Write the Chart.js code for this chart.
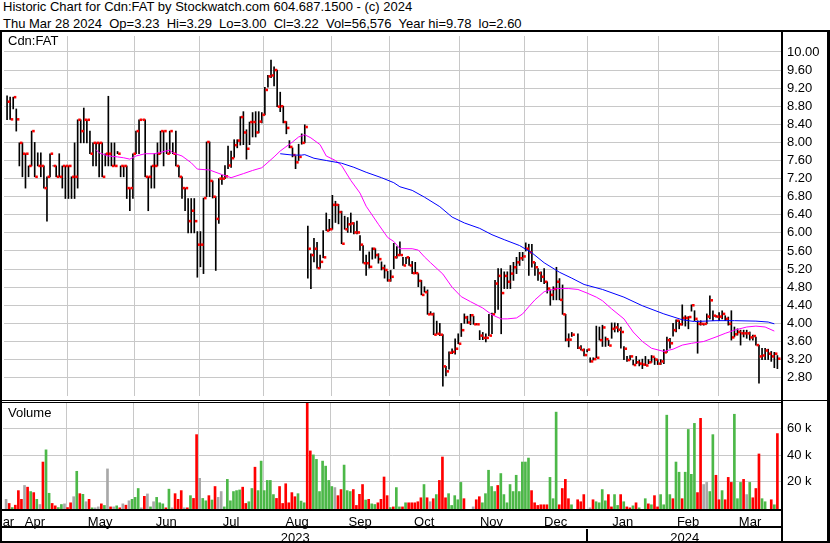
<!DOCTYPE html>
<html lang="en">
<head>
  <meta charset="UTF-8" />
  <title>Historic Chart for Cdn:FAT</title>
  <style>
    * {
      margin: 0;
      padding: 0;
      box-sizing: border-box;
    }
    body {
      width: 830px;
      height: 543px;
      position: relative;
      overflow: hidden;
      background: #fff;
      color: #000;
      font-family: Arial, "Liberation Sans", sans-serif;
      font-size: 13px;
    }
    .txt {
      position: absolute;
      white-space: pre;
      line-height: 15px;
    }
    .ln {
      position: absolute;
      background: #000;
    }
    canvas {
      position: absolute;
      left: 0;
    }
  </style>
</head>
<body>
  <div class="txt" style="left:3px;top:-1px">Historic Chart for Cdn:FAT by Stockwatch.com 604.687.1500 - (c) 2024</div>
  <div class="txt" style="left:3px;top:16px">Thu Mar 28 2024  Op=3.23  Hi=3.29  Lo=3.00  Cl=3.22  Vol=56,576  Year hi=9.78  lo=2.60</div>

  <canvas id="priceChart" width="830" height="368" style="top:32px"></canvas>
  <canvas id="volChart" width="830" height="140" style="top:403px"></canvas>

  <div class="txt" style="left:8px;top:33px">Cdn:FAT</div>
  <div class="txt" style="left:8px;top:405px">Volume</div>

  <!-- frame -->
  <div class="ln" style="left:0;top:30px;width:830px;height:2px"></div>
  <div class="ln" style="left:0;top:30px;width:2px;height:513px"></div>
  <div class="ln" style="left:827px;top:30px;width:3px;height:513px"></div>
  <div class="ln" style="left:781px;top:30px;width:2px;height:513px"></div>
  <div class="ln" style="left:0;top:400px;width:830px;height:1px"></div>
  <div class="ln" style="left:0;top:402px;width:783px;height:1px"></div>
  <div class="ln" style="left:0;top:509px;width:783px;height:2px"></div>
  <div class="ln" style="left:0;top:526px;width:783px;height:2px"></div>
  <div class="ln" style="left:0;top:541px;width:830px;height:2px"></div>

  <script src="https://cdn.jsdelivr.net/npm/chart.js"></script>
  <script>
    // daily bars, Mar 2023 - Mar 28 2024 (null = no trade)
    const highs = [
      9.03,9.00,9.00,8.74,7.99,7.99,7.75,7.48,8.25,8.00,7.77,7.77,7.48,7.24,7.75,7.48,7.48,7.75,7.48,7.48,
      7.48,7.24,7.99,8.50,8.50,8.76,8.50,8.25,7.99,7.99,7.99,7.99,7.75,9.02,7.99,7.99,7.80,7.48,7.48,7.48,
      6.99,7.75,8.25,8.50,8.50,8.50,7.24,7.48,7.75,7.99,8.25,8.25,7.99,8.25,7.99,8.25,7.48,7.24,6.99,6.76,
      6.76,6.76,6.03,6.03,6.77,8.01,8.01,7.15,6.80,7.20,7.27,7.49,7.92,7.81,8.06,8.06,8.57,8.68,8.28,8.45,
      8.66,8.68,8.68,8.66,9.22,9.48,9.82,9.67,9.60,9.11,8.80,8.46,8.04,7.88,7.70,7.96,8.19,8.39,6.15,5.54,
      5.88,5.79,5.51,6.05,6.44,6.30,6.83,6.70,6.63,6.48,6.37,6.34,6.44,6.23,6.26,5.94,5.72,5.51,5.58,5.67,
      5.65,5.54,5.36,5.29,5.15,5.17,5.77,5.70,5.80,5.46,5.46,5.46,5.37,5.35,5.10,4.95,4.81,4.74,4.26,4.23,
      4.05,4.00,3.75,3.05,3.37,3.44,3.66,3.77,4.00,4.21,4.16,4.20,4.16,4.00,3.84,3.80,3.77,4.20,4.23,4.95,
      5.21,5.21,5.14,5.14,5.28,5.35,5.46,5.57,5.57,5.78,5.75,5.75,5.35,5.21,5.14,5.21,4.92,4.74,4.81,5.24,
      4.99,4.85,4.20,3.77,3.80,null,3.77,3.51,3.44,3.42,3.24,3.24,3.94,3.92,3.96,3.70,3.63,4.01,4.01,4.00,
      3.92,3.49,3.27,3.29,3.19,3.27,3.19,3.21,3.27,3.20,3.29,3.24,3.20,3.20,3.42,3.70,3.67,4.00,4.08,4.06,
      4.41,4.17,4.15,4.41,4.28,4.06,4.06,3.99,4.21,4.61,4.28,4.17,4.24,4.28,4.17,4.14,4.28,3.92,3.88,3.85,
      3.85,3.85,3.81,3.74,3.70,3.52,3.45,3.45,3.43,3.38,3.36,3.29
    ];
    const lows = [
      8.50,8.51,8.74,8.25,7.48,7.24,6.99,7.24,7.48,7.24,7.48,7.24,6.99,6.26,7.24,7.48,7.24,7.24,6.99,6.76,
      6.76,6.76,6.76,6.99,7.99,7.99,7.99,7.75,7.48,7.48,7.24,7.24,7.48,7.48,7.48,7.48,7.75,7.24,7.24,6.76,
      6.49,6.76,7.75,7.75,8.50,7.24,6.49,6.99,6.99,7.48,7.75,7.48,7.75,7.75,7.75,7.48,7.24,6.76,6.49,6.00,
      6.00,6.00,5.02,5.25,5.10,6.80,6.80,6.77,5.17,6.21,7.07,7.20,7.42,7.45,7.67,7.88,7.94,7.95,7.63,7.95,
      8.12,8.12,8.21,8.43,8.61,9.22,9.43,9.25,8.79,8.68,8.43,8.19,7.88,7.68,7.42,7.60,7.96,7.99,5.00,4.77,
      5.36,5.22,5.22,5.45,6.05,6.05,6.08,6.23,6.20,5.76,6.08,6.01,6.01,5.98,5.98,5.61,5.33,5.06,5.22,5.42,
      5.44,5.33,5.18,5.00,4.93,4.93,5.21,5.44,5.50,5.28,5.32,5.28,5.10,5.10,4.81,4.63,4.69,4.20,4.20,3.75,
      3.77,3.73,2.61,2.84,2.99,3.33,3.32,3.55,3.71,4.00,4.00,3.97,3.98,3.97,3.64,3.64,3.59,3.73,3.77,4.23,
      4.31,3.77,4.77,4.77,4.77,4.95,5.10,5.28,5.39,5.60,5.06,5.24,5.06,4.95,4.92,4.88,4.67,4.40,4.52,4.52,
      4.52,4.20,3.61,3.48,3.71,null,3.44,3.41,3.28,3.37,3.14,3.19,3.24,3.63,3.49,3.49,3.51,3.67,3.81,3.81,
      3.45,3.20,3.16,3.19,3.08,3.11,3.06,3.00,3.07,3.11,3.14,3.09,3.09,3.09,3.11,3.36,3.45,3.72,3.81,3.88,
      3.96,3.94,3.88,4.27,4.06,3.34,3.96,3.96,3.99,4.10,4.06,4.14,4.06,4.10,4.06,3.96,3.63,3.70,3.74,3.52,
      3.70,3.67,3.63,3.63,3.52,2.68,3.20,3.20,3.20,3.16,3.02,3.00
    ];
    const closes = [
      8.90,8.51,9.00,8.51,7.99,7.75,7.75,7.48,8.25,7.24,7.48,7.48,6.99,7.24,7.75,7.48,7.24,7.24,7.48,7.48,
      7.48,7.24,7.24,8.50,8.25,8.50,8.50,7.75,7.99,7.99,7.99,7.24,7.75,7.75,7.48,7.48,7.75,7.48,7.48,6.99,
      6.99,7.75,8.25,8.50,8.50,7.24,7.24,7.48,7.48,7.75,8.25,8.25,7.75,8.25,7.75,7.48,7.24,6.99,6.99,6.26,
      6.49,6.26,5.74,5.74,6.77,8.01,7.15,6.80,6.31,7.20,7.20,7.25,7.49,7.65,7.94,8.04,8.56,8.22,7.86,8.45,
      8.45,8.22,8.46,8.61,9.16,9.46,9.48,9.60,8.79,8.80,8.45,8.32,7.90,7.72,7.56,7.68,7.99,8.34,5.65,5.51,
      5.65,5.22,5.36,5.46,6.05,6.08,6.62,6.62,6.46,5.76,6.08,6.19,6.21,6.01,6.01,5.74,5.33,5.33,5.25,5.65,
      5.51,5.42,5.22,5.18,4.95,5.03,5.46,5.51,5.51,5.28,5.46,5.28,5.11,5.11,4.94,4.63,4.69,4.20,4.20,3.75,
      3.77,3.75,3.05,2.94,3.35,3.37,3.44,3.55,3.85,4.13,4.02,4.18,3.98,3.98,3.73,3.68,3.68,3.73,4.20,4.88,
      5.05,4.67,5.05,4.92,5.10,5.24,5.35,5.44,5.48,5.65,5.57,5.35,5.24,5.11,5.03,4.92,4.77,4.63,4.76,4.92,
      4.52,4.20,3.64,3.64,3.75,null,3.46,3.41,3.30,3.42,3.16,3.21,3.24,3.63,3.91,3.65,3.51,3.88,3.91,3.86,
      3.81,3.44,3.19,3.27,3.08,3.14,3.11,3.09,3.07,3.14,3.26,3.20,3.11,3.16,3.36,3.63,3.56,3.85,4.06,3.98,
      4.12,4.12,4.14,4.40,4.10,3.99,3.99,3.99,4.15,4.51,4.17,4.15,4.15,4.21,4.10,3.99,3.69,3.76,3.81,3.78,
      3.78,3.78,3.69,3.72,3.52,3.27,3.29,3.40,3.33,3.27,3.33,3.22
    ];

    // volume in thousands of shares, direction: g = up, r = down, n = unchanged
    const volumeK = [
      6.7,3.6,0.5,2.3,13.3,6.7,17.2,15.9,12.6,11.8, 6.7,2.8,34.9,44.1,11.3,3.6,1.8,0.5,2.8,3.3,
      0.5,4.1,8.7,27.9,11.0,10.5,4.9,6.7,0.3,0.3, 1.0,3.3,2.1,29.7,1.0,1.0,1.8,0.3,3.3,2.3,
      5.6,6.7,8.2,14.9,0.3,9.0,10.8,1.0,4.9,8.2, 4.1,3.3,0.3,14.4,0.3,11.0,6.7,13.3,0.3,0.3,
      9.5,7.4,55.6,22.6,7.4,5.6,9.5,6.2,16.4,8.2, 12.6,1.0,21.8,5.6,12.6,13.3,13.8,15.9,3.6,4.9,
      14.9,31.0,13.3,35.6,13.3,21.0,21.0,10.3,7.4,16.4, 3.6,18.5,4.1,11.8,8.7,11.0,5.4,4.1,82.0,43.3,
      40.3,36.9,12.6,35.6,31.8,21.0,16.4,15.6,9.5,14.1, 32.6,13.3,12.6,14.1,2.1,10.5,17.9,6.2,6.7,3.3,
      2.8,4.1,6.7,23.6,9.5,0.5,1.0,15.6,1.0,1.0, 4.1,4.1,4.1,4.1,4.9,7.9,17.9,7.9,4.9,7.2,
      10.3,21.0,38.7,7.9,11.0,2.1,9.5,6.4,19.5,7.2, 0,0,1.0,6.4,8.7,4.1,11.0,28.7,16.4,12.6,
      17.2,26.2,10.3,4.1,17.9,12.6,24.9,12.6,34.9,34.9, 37.9,13.3,4.1,2.1,2.6,2.6,2.6,23.3,7.2,72.6,
      2.6,14.9,21.8,7.2,2.6,null,6.4,4.9,10.3,0, 0.3,6.4,4.9,4.1,14.1,5.6,10.3,1.0,10.3,2.1,
      10.3,4.9,1.0,0.3,1.8,4.1,0.3,0,7.2,3.3, 2.6,9.5,1.0,10.3,2.6,70.3,10.3,7.2,34.9,27.2,
      7.2,27.2,59.5,25.6,64.1,11.8,67.9,17.9,19.5,12.6, 55.6,24.9,6.4,13.3,6.4,23.3,19.5,71.0,7.2,19.5,
      21.8,10.3,19.5,7.9,14.9,41.0,7.2,4.9,0,6.4, 2.6,56.4
    ];
    const volDir = (
      'nrgrrrnrgr' + 'gnrggrrggn' + 'rrngrgnrgn' + 'nrgnrngrnr' + 'ngggnrngng' +
      'ggrgnrrrnr' + 'grrnggrgrn' + 'nggggggrrg' + 'grggggggrr' + 'rrrrrgggrr' +
      'gggggggnrr' + 'gggrrrrgrg' + 'grrrrgrggr' + 'grrrrrgrnr' + 'grrrgggggr' +
      'grnrrggggg' + 'rggggggggg' + 'grrrrrrggg' + 'rrrrgnrrrn' + 'nrggggrrgg' +
      'rgrrgrgrgr' + 'grrggggrgg' + 'rggggrrnng' + 'grrgrrrggg' + 'rngrrrggrr' + 'gr'
    ).split('');

    // moving averages: [bar index, price]
    const maFast = [
      [29,7.84],[30,7.77],[33,7.70],[36,7.68],[38,7.66],[40,7.63],[42,7.70],[45,7.75],[48,7.75],[50,7.78],
      [53,7.83],[54,7.77],[57,7.70],[60,7.55],[62,7.41],[66,7.39],[70,7.29],[73,7.22],[77,7.31],[80,7.38],
      [83,7.44],[85,7.56],[87,7.68],[89,7.81],[93,8.01],[95,8.12],[97,8.17],[99,8.10],[102,7.95],[104,7.70],
      [107,7.60],[109,7.49],[112,7.16],[115,6.88],[117,6.59],[121,6.19],[124,5.90],[126,5.81],[128,5.65],[132,5.65],
      [134,5.62],[136,5.47],[138,5.34],[142,5.09],[145,4.80],[148,4.59],[151,4.48],[155,4.34],[158,4.19],[161,4.10],
      [163,4.10],[166,4.12],[168,4.21],[170,4.37],[172,4.52],[175,4.70],[179,4.77],[183,4.77],[186,4.75],[189,4.67],
      [192,4.58],[194,4.50],[197,4.32],[201,4.10],[204,3.81],[207,3.60],[210,3.45],[214,3.38],[217,3.43],[220,3.52],
      [223,3.56],[227,3.60],[231,3.70],[234,3.78],[237,3.85],[241,3.92],[244,3.94],[247,3.92],[250,3.83]
    ];
    const maSlow = [
      [89,7.75],[93,7.72],[96,7.72],[97,7.73],[100,7.65],[104,7.60],[109,7.54],[113,7.45],[117,7.34],[122,7.22],
      [126,7.11],[128,7.02],[132,6.94],[136,6.79],[141,6.58],[145,6.35],[149,6.22],[154,6.10],[158,5.96],[162,5.85],
      [167,5.72],[171,5.56],[175,5.34],[180,5.13],[184,5.00],[188,4.86],[194,4.75],[201,4.58],[207,4.39],[214,4.21],
      [220,4.08],[224,4.04],[231,4.06],[237,4.06],[244,4.05],[248,4.03],[250,3.99]
    ];

    // axes: month boundaries (bar index), labels, price ticks
    const monthStarts = [19.6, 41.6, 62.7, 83.7, 105.7, 124.7, 147.4, 168.5, 189.2, 212.2, 231.7];
    const monthNames = ['Mar', 'Apr', 'May', 'Jun', 'Jul', 'Aug', 'Sep', 'Oct', 'Nov', 'Dec', 'Jan', 'Feb', 'Mar'];
    const yearNames = ['2023', '2024'];
    const priceTicks = [2.8, 3.2, 3.6, 4.0, 4.4, 4.8, 5.2, 5.6, 6.0, 6.4, 6.8, 7.2, 7.6, 8.0, 8.4, 8.8, 9.2, 9.6, 10.0];
    const volTicks = [20, 40, 60];

    const xMin = -1, xMax = 252.5;
    const gridColor = '#c8c8c8';
    const FONT = { family: 'Arial, "Liberation Sans", sans-serif', size: 13 };
    const dirColor = { g: '#4cb848', r: '#ff0000', n: '#a8a8a8' };

    // label positions: middle of each month span
    const bounds = [-0.8].concat(monthStarts, [xMax]);
    const monthLabelPos = [xMin];
    for (let i = 0; i < bounds.length - 1; i++) monthLabelPos.push((bounds[i] + bounds[i + 1]) / 2);
    const yearLabelPos = [(xMin + monthStarts[8]) / 2, (monthStarts[8] + xMax) / 2];

    function noPad(s) {
      s.paddingLeft = 0; s.paddingRight = 0; s.paddingTop = 0; s.paddingBottom = 0;
    }
    function gridX() {
      return {
        type: 'linear', min: xMin, max: xMax, offset: false, weight: 0,
        afterBuildTicks: s => { s.ticks = monthStarts.map(v => ({ value: v })); },
        afterFit: s => { s.height = 0; noPad(s); },
        ticks: { display: false },
        grid: { color: gridColor, drawTicks: false, offset: false },
        border: { display: false }
      };
    }
    function labelX(pos, names, weight, h, pad) {
      return {
        type: 'linear', position: 'bottom', min: xMin, max: xMax, offset: false, weight: weight,
        afterBuildTicks: s => { s.ticks = pos.map(v => ({ value: v })); },
        afterFit: s => { s.height = h; noPad(s); },
        ticks: { autoSkip: false, maxRotation: 0, padding: pad, color: '#000', font: FONT,
                 callback: (v, i) => names[i] },
        grid: { display: false, drawTicks: false, offset: false },
        border: { display: false }
      };
    }
    function rightY(min, max, ticks, fmt) {
      return {
        position: 'right', min: min, max: max,
        afterBuildTicks: s => { s.ticks = ticks.map(v => ({ value: v })); },
        afterFit: s => { s.width = 48; noPad(s); },
        ticks: { color: '#000', font: FONT, padding: 5, callback: fmt },
        grid: { color: gridColor, drawTicks: false },
        border: { display: false }
      };
    }

    Chart.defaults.animation = false;
    Chart.defaults.plugins.legend.display = false;
    Chart.defaults.plugins.tooltip.enabled = false;

    const barData = [], closeData = [];
    highs.forEach((h, i) => {
      if (h == null) return;
      barData.push({ x: i, y: [lows[i], h] });
      closeData.push({ x: i + 0.6, y: closes[i] });
    });

    new Chart(document.getElementById('priceChart'), {
      type: 'bar',
      data: {
        datasets: [
          { type: 'line', data: maSlow.map(p => ({ x: p[0], y: p[1] })), borderColor: '#0000ff',
            borderWidth: 1, pointRadius: 0, tension: 0, order: 0 },
          { type: 'line', data: maFast.map(p => ({ x: p[0], y: p[1] })), borderColor: '#ff00ff',
            borderWidth: 1, pointRadius: 0, tension: 0, order: 0 },
          { type: 'scatter', data: closeData, pointStyle: 'rect', pointRadius: 1.8,
            backgroundColor: '#ff0000', borderWidth: 0, order: 1 },
          { type: 'bar', data: barData, backgroundColor: '#000', barThickness: 1, order: 2 }
        ]
      },
      options: {
        responsive: false,
        devicePixelRatio: 1,
        layout: { padding: { left: 3, right: 0, top: 0, bottom: 0 } },
        scales: {
          x: gridX(),
          y: rightY(2.395, 10.352, priceTicks, v => v.toFixed(2))
        }
      }
    });

    const yearSplit = {
      id: 'yearSplit',
      afterDraw(chart) {
        const s = chart.scales.xy;
        const x = Math.round(s.getPixelForValue(monthStarts[8]));
        chart.ctx.fillStyle = '#000';
        chart.ctx.fillRect(x - 1, s.top, 2, s.bottom - s.top);
      }
    };

    const volMin = -2.1;
    const volData = [];
    volumeK.forEach((v, i) => { if (v) volData.push({ x: i, y: [volMin, v] }); });

    new Chart(document.getElementById('volChart'), {
      type: 'bar',
      data: {
        datasets: [{
          data: volData,
          backgroundColor: c => dirColor[volDir[c.raw.x]],
          barThickness: 2
        }]
      },
      options: {
        responsive: false,
        devicePixelRatio: 1,
        layout: { padding: { left: 3, right: 0, top: 0, bottom: 0 } },
        scales: {
          x: gridX(),
          xm: labelX(monthLabelPos, monthNames, 1, 18, 4),
          xy: labelX(yearLabelPos, yearNames, 2, 14, 2),
          y: rightY(volMin, 79.5, volTicks, v => v + ' k')
        }
      },
      plugins: [yearSplit]
    });
  </script>
</body>
</html>
